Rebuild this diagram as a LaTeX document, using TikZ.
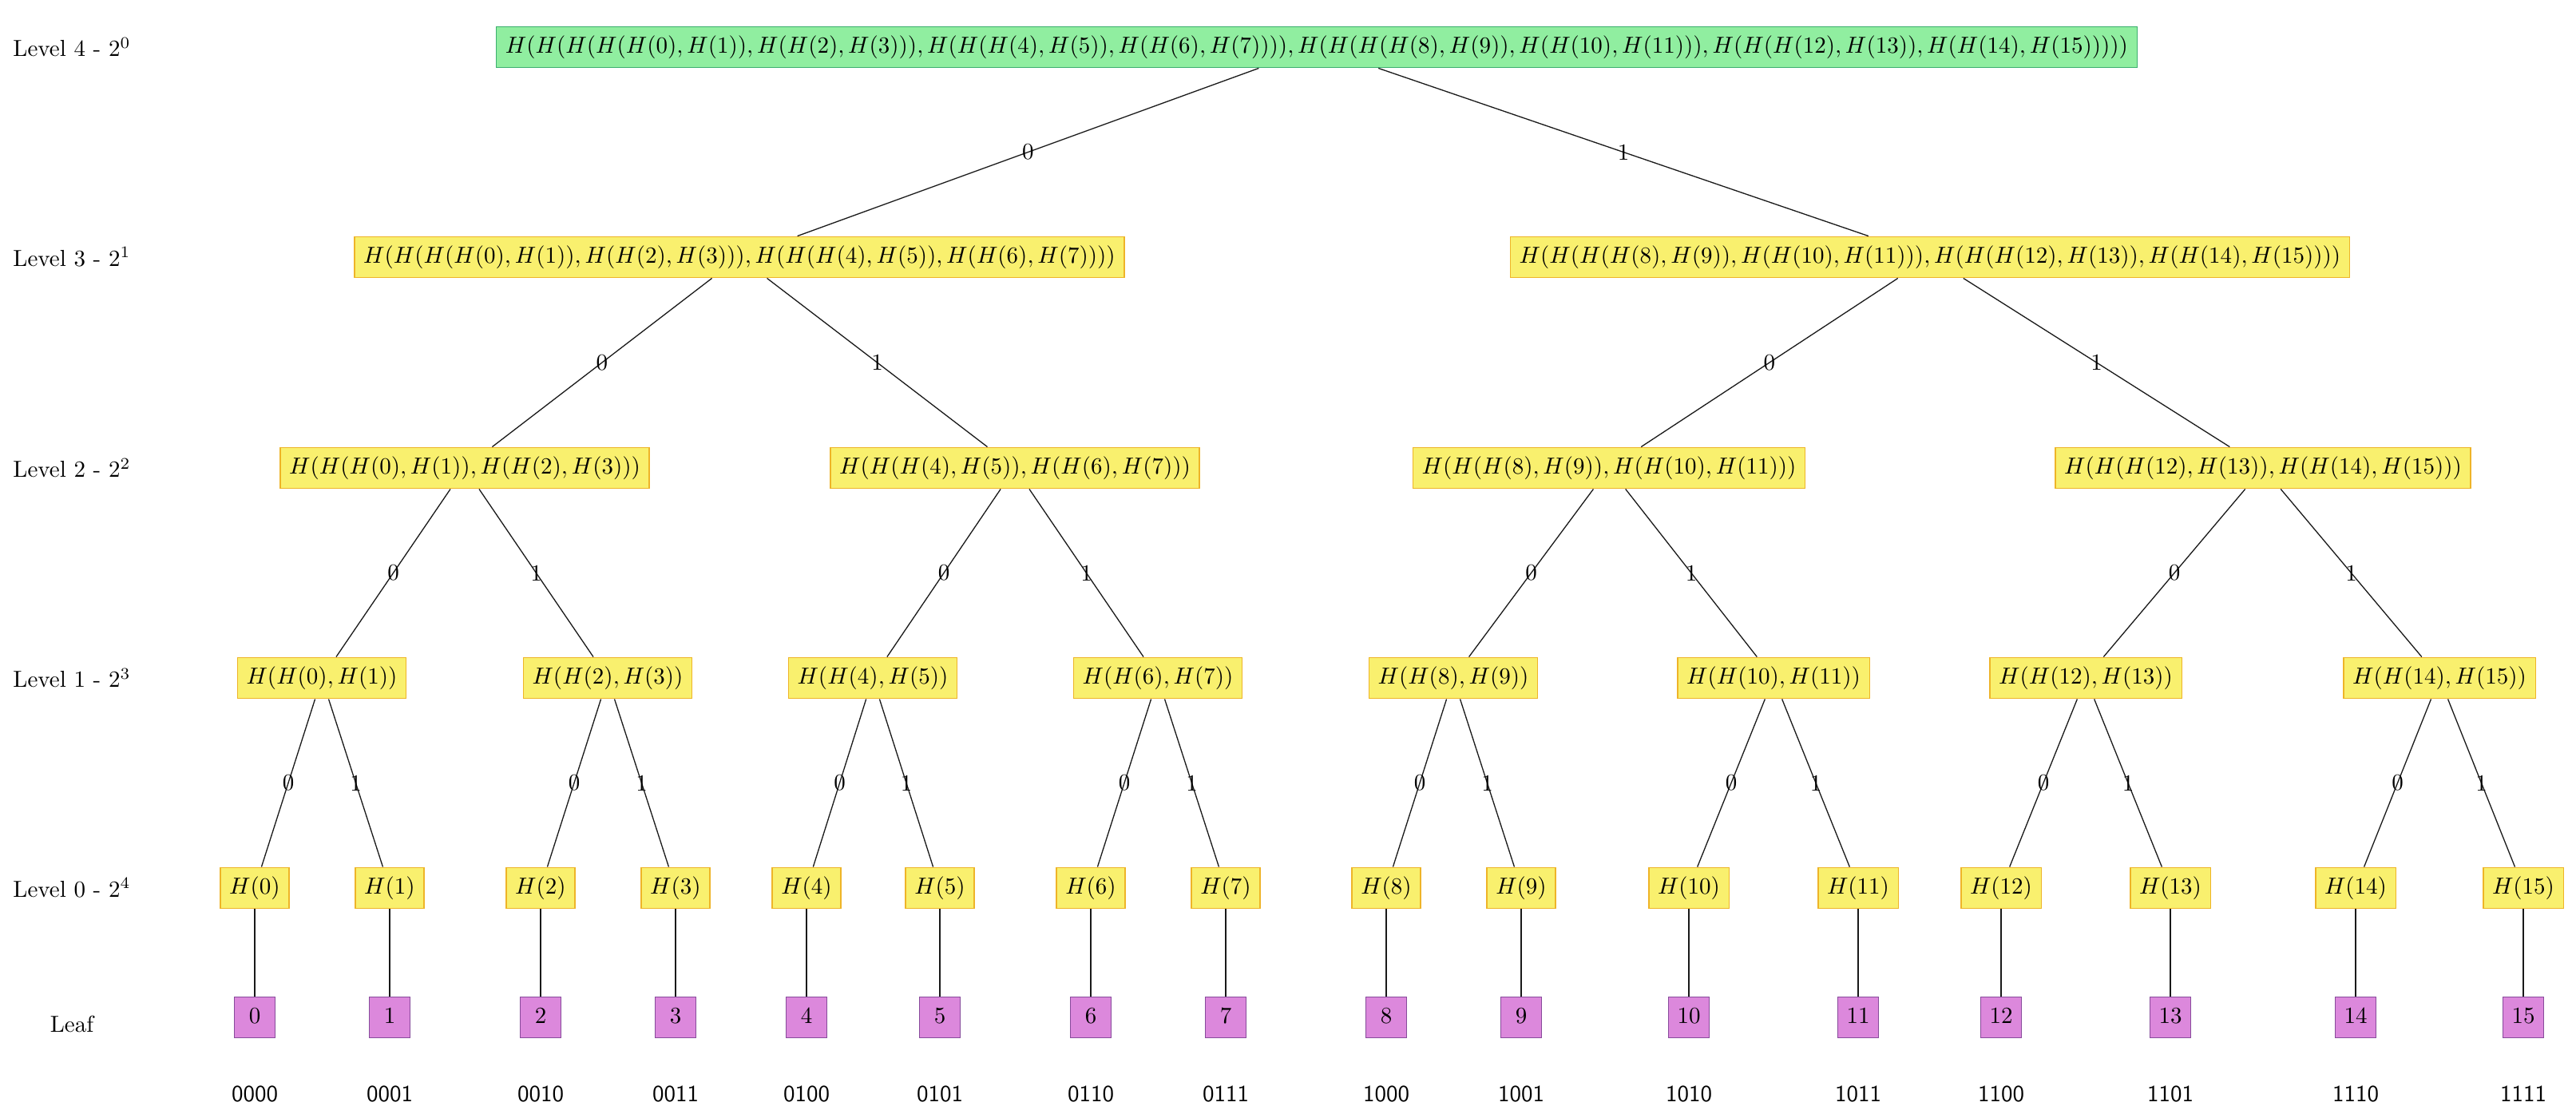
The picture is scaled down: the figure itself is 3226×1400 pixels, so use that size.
\documentclass[tikz,border=0pt]{standalone}
\usepackage{xcolor}
\definecolor{rootfill}{RGB}{144,238,160}
\definecolor{rootdraw}{RGB}{60,175,110}
\definecolor{hfill}{RGB}{249,240,110}
\definecolor{hdraw}{RGB}{238,180,40}
\definecolor{leaffill}{RGB}{220,136,220}
\definecolor{leafdraw}{RGB}{135,75,155}
\begin{document}
\begin{tikzpicture}[x=0.3448pt,y=-0.3448pt,
  box/.style={draw,rectangle,inner sep=3.87pt,text height=7.5pt,text depth=2.5pt,line width=0.5pt},
  rootbox/.style={box,fill=rootfill,draw=rootdraw},
  hbox/.style={box,fill=hfill,draw=hdraw},
  leafbox/.style={box,fill=leaffill,draw=leafdraw,minimum width=17.7pt},
  lvl/.style={anchor=center},
  bits/.style={font=\sffamily},
  edge/.style={draw=black!90,line width=0.45pt},
  elab/.style={midway,inner sep=0pt}]
\useasboundingbox (0,0) rectangle (3226,1400);

% level captions
\node[lvl] (c4) at (90,59)   {Level 4 - $2^0$};
\node[lvl] (c3) at (90,322)  {Level 3 - $2^1$};
\node[lvl] (c2) at (90,586)  {Level 2 - $2^2$};
\node[lvl] (c1) at (90,849)  {Level 1 - $2^3$};
\node[lvl] (c0) at (90,1112) {Level 0 - $2^4$};
\node[lvl] (cl) at (90,1282) {Leaf};

% root
\node[rootbox] (r) at (1649,59) {$H(H(H(H(H(0),H(1)),H(H(2),H(3))),H(H(H(4),H(5)),H(H(6),H(7)))),H(H(H(H(8),H(9)),H(H(10),H(11))),H(H(H(12),H(13)),H(H(14),H(15)))))$};

% level 3
\node[hbox] (a0) at (926,322)  {$H(H(H(H(0),H(1)),H(H(2),H(3))),H(H(H(4),H(5)),H(H(6),H(7))))$};
\node[hbox] (a1) at (2417,322) {$H(H(H(H(8),H(9)),H(H(10),H(11))),H(H(H(12),H(13)),H(H(14),H(15))))$};

% level 2
\node[hbox] (b0) at (582,586)  {$H(H(H(0),H(1)),H(H(2),H(3)))$};
\node[hbox] (b1) at (1271,586) {$H(H(H(4),H(5)),H(H(6),H(7)))$};
\node[hbox] (b2) at (2015,586) {$H(H(H(8),H(9)),H(H(10),H(11)))$};
\node[hbox] (b3) at (2834,586) {$H(H(H(12),H(13)),H(H(14),H(15)))$};

% level 1
\node[hbox] (d0) at (403,849)  {$H(H(0),H(1))$};
\node[hbox] (d1) at (761,849)  {$H(H(2),H(3))$};
\node[hbox] (d2) at (1093,849) {$H(H(4),H(5))$};
\node[hbox] (d3) at (1450,849) {$H(H(6),H(7))$};
\node[hbox] (d4) at (1820,849) {$H(H(8),H(9))$};
\node[hbox] (d5) at (2221,849) {$H(H(10),H(11))$};
\node[hbox] (d6) at (2612,849) {$H(H(12),H(13))$};
\node[hbox] (d7) at (3055,849) {$H(H(14),H(15))$};

% level 0, leaves and bit strings
\foreach \i/\xx/\b in {0/319/0000,1/488/0001,2/677/0010,3/846/0011,
                      4/1010/0100,5/1177/0101,6/1366/0110,7/1535/0111,
                      8/1736/1000,9/1905/1001,10/2115/1010,11/2327/1011,
                      12/2506/1100,13/2718/1101,14/2950/1110,15/3160/1111}{
  \node[hbox] (e\i) at (\xx,1112) {$H(\i)$};
  \node[leafbox] (f\i) at (\xx,1274) {\i};
  \node[bits] (g\i) at (\xx,1370) {\b};
  \draw[edge] (e\i) -- (f\i);
}

% tree edges
\draw[edge] (r) -- node[elab]{0} (a0);
\draw[edge] (r) -- node[elab]{1} (a1);
\draw[edge] (a0) -- node[elab]{0} (b0);
\draw[edge] (a0) -- node[elab]{1} (b1);
\draw[edge] (a1) -- node[elab]{0} (b2);
\draw[edge] (a1) -- node[elab]{1} (b3);
\draw[edge] (b0) -- node[elab]{0} (d0);
\draw[edge] (b0) -- node[elab]{1} (d1);
\draw[edge] (b1) -- node[elab]{0} (d2);
\draw[edge] (b1) -- node[elab]{1} (d3);
\draw[edge] (b2) -- node[elab]{0} (d4);
\draw[edge] (b2) -- node[elab]{1} (d5);
\draw[edge] (b3) -- node[elab]{0} (d6);
\draw[edge] (b3) -- node[elab]{1} (d7);
\draw[edge] (d0) -- node[elab]{0} (e0);
\draw[edge] (d0) -- node[elab]{1} (e1);
\draw[edge] (d1) -- node[elab]{0} (e2);
\draw[edge] (d1) -- node[elab]{1} (e3);
\draw[edge] (d2) -- node[elab]{0} (e4);
\draw[edge] (d2) -- node[elab]{1} (e5);
\draw[edge] (d3) -- node[elab]{0} (e6);
\draw[edge] (d3) -- node[elab]{1} (e7);
\draw[edge] (d4) -- node[elab]{0} (e8);
\draw[edge] (d4) -- node[elab]{1} (e9);
\draw[edge] (d5) -- node[elab]{0} (e10);
\draw[edge] (d5) -- node[elab]{1} (e11);
\draw[edge] (d6) -- node[elab]{0} (e12);
\draw[edge] (d6) -- node[elab]{1} (e13);
\draw[edge] (d7) -- node[elab]{0} (e14);
\draw[edge] (d7) -- node[elab]{1} (e15);
\end{tikzpicture}
\end{document}
